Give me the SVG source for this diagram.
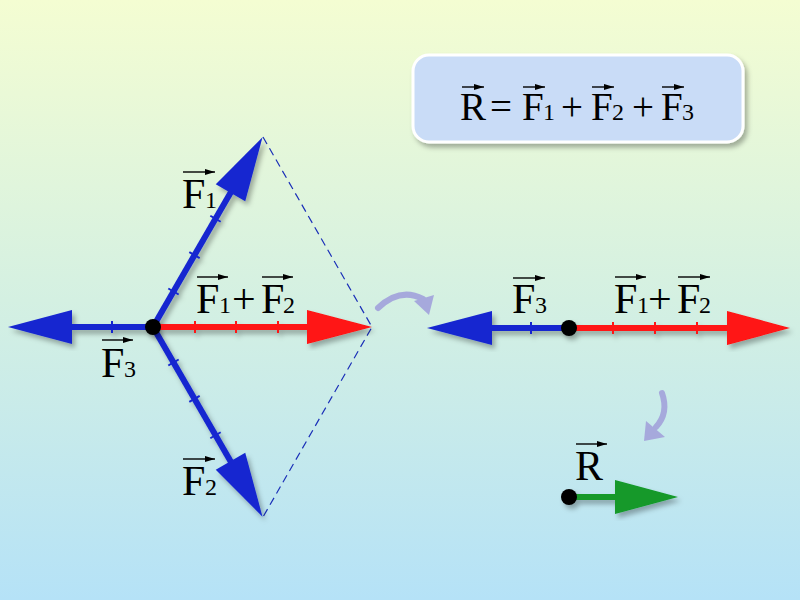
<svg xmlns="http://www.w3.org/2000/svg" width="800" height="600" viewBox="0 0 800 600">
<defs>
<linearGradient id="bg" x1="0" y1="0" x2="0" y2="1">
<stop offset="0" stop-color="#f4fdd2"/>
<stop offset="0.5" stop-color="#d4f0e2"/>
<stop offset="1" stop-color="#b5e2f7"/>
</linearGradient>
<filter id="sh" x="-20%" y="-20%" width="140%" height="140%">
<feDropShadow dx="3" dy="4" stdDeviation="2.5" flood-color="#000" flood-opacity="0.3"/>
</filter>
<marker id="va" viewBox="0 0 10 6" refX="10" refY="3" markerWidth="10" markerHeight="6" markerUnits="userSpaceOnUse" orient="auto">
<path d="M0,0 L10,3 L0,6 Z" fill="#000"/>
</marker>
</defs>
<style>
.t{font-family:"Liberation Serif","Times New Roman",serif;font-size:42px;fill:#000}
.s{font-size:24px}
.bt{font-family:"Liberation Serif","Times New Roman",serif;font-size:39px;fill:#000}
.v{stroke:#000;stroke-width:1.4;marker-end:url(#va)}
.blue{stroke:#1426d0;fill:#1426d0}
.red{stroke:#ff1212;fill:#ff1212}
.green{stroke:#12992a;fill:#12992a}
.shaft{stroke-width:6}
.tick{stroke-width:2}
.dash{stroke:#1a2fb8;stroke-width:1.2;stroke-dasharray:8 5;fill:none}
.curl{stroke:#a6a9dc;stroke-width:6;fill:none;stroke-linecap:round}
.curlh{fill:#a6a9dc}
</style>
<rect width="800" height="600" fill="url(#bg)"/>

<g id="formula">
<rect x="413" y="55" width="330" height="87" rx="16" fill="#c9dcf7" stroke="#fff" stroke-width="3" filter="url(#sh)"/>
<text class="bt" y="120"><tspan x="460">R</tspan><tspan x="490">=</tspan><tspan x="522">F</tspan><tspan x="543" class="s">1</tspan><tspan x="561">+</tspan><tspan x="591">F</tspan><tspan x="612" class="s">2</tspan><tspan x="632">+</tspan><tspan x="661">F</tspan><tspan x="682" class="s">3</tspan></text>
<line class="v" x1="462" y1="87" x2="484" y2="87"/>
<line class="v" x1="523" y1="87" x2="545" y2="87"/>
<line class="v" x1="592" y1="87" x2="614" y2="87"/>
<line class="v" x1="662" y1="87" x2="684" y2="87"/>
</g>

<g id="connectors">
<path class="dash" d="M263,137 L372,327 L263,517"/>
<path class="curl" d="M378,308 Q400,287 423,299"/>
<polygon class="curlh" points="414,301 434,295 429,315"/>
<path class="curl" d="M662,393 Q669,413 656,427"/>
<polygon class="curlh" points="646,421 665,437 644,441"/>
</g>

<g id="left-F1" filter="url(#sh)">
<g transform="translate(153,327) rotate(-60)" class="blue">
<line class="shaft" x1="0" y1="0" x2="160" y2="0"/>
<polygon points="155,-17 219,0 155,17" stroke="none"/>
<line class="tick" x1="41" y1="-6" x2="41" y2="6"/>
<line class="tick" x1="83" y1="-6" x2="83" y2="6"/>
<line class="tick" x1="125" y1="-6" x2="125" y2="6"/>
</g>
</g>
<g id="left-F2" filter="url(#sh)">
<g transform="translate(153,327) rotate(60)" class="blue">
<line class="shaft" x1="0" y1="0" x2="160" y2="0"/>
<polygon points="155,-17 219,0 155,17" stroke="none"/>
<line class="tick" x1="41" y1="-6" x2="41" y2="6"/>
<line class="tick" x1="83" y1="-6" x2="83" y2="6"/>
<line class="tick" x1="125" y1="-6" x2="125" y2="6"/>
</g>
</g>
<g id="left-F3" filter="url(#sh)">
<g transform="translate(153,327) rotate(180)" class="blue">
<line class="shaft" x1="0" y1="0" x2="85" y2="0"/>
<polygon points="81,-17 145,0 81,17" stroke="none"/>
<line class="tick" x1="41" y1="-6" x2="41" y2="6"/>
</g>
</g>
<g id="left-sum" filter="url(#sh)">
<g transform="translate(153,327)" class="red">
<line class="shaft" x1="0" y1="0" x2="158" y2="0"/>
<polygon points="154,-17 219,0 154,17" stroke="none"/>
<line class="tick" x1="42" y1="-6" x2="42" y2="6"/>
<line class="tick" x1="83" y1="-6" x2="83" y2="6"/>
<line class="tick" x1="125" y1="-6" x2="125" y2="6"/>
</g>
<circle cx="153" cy="327" r="8" fill="#000"/>
</g>

<g id="label-F1">
<text class="t" y="208"><tspan x="182">F</tspan><tspan x="205" class="s">1</tspan></text>
<line class="v" x1="183" y1="172" x2="215" y2="172"/>
</g>
<g id="label-F2">
<text class="t" y="495"><tspan x="182">F</tspan><tspan x="205" class="s">2</tspan></text>
<line class="v" x1="183" y1="459" x2="215" y2="459"/>
</g>
<g id="label-F3">
<text class="t" y="377"><tspan x="101">F</tspan><tspan x="124" class="s">3</tspan></text>
<line class="v" x1="102" y1="340" x2="133" y2="340"/>
</g>
<g id="label-sum-left">
<text class="t" y="313"><tspan x="196">F</tspan><tspan x="219" class="s">1</tspan><tspan x="232">+</tspan><tspan x="261">F</tspan><tspan x="283" class="s">2</tspan></text>
<line class="v" x1="197" y1="277" x2="228" y2="277"/>
<line class="v" x1="262" y1="277" x2="293" y2="277"/>
</g>

<g id="right-F3" filter="url(#sh)">
<g transform="translate(569,328) rotate(180)" class="blue">
<line class="shaft" x1="0" y1="0" x2="81" y2="0"/>
<polygon points="77,-17 142,0 77,17" stroke="none"/>
<line class="tick" x1="38" y1="-6" x2="38" y2="6"/>
</g>
</g>
<g id="right-sum" filter="url(#sh)">
<g transform="translate(569,328)" class="red">
<line class="shaft" x1="0" y1="0" x2="162" y2="0"/>
<polygon points="158,-17 221,0 158,17" stroke="none"/>
<line class="tick" x1="44" y1="-6" x2="44" y2="6"/>
<line class="tick" x1="86" y1="-6" x2="86" y2="6"/>
<line class="tick" x1="128" y1="-6" x2="128" y2="6"/>
</g>
<circle cx="569" cy="328" r="8" fill="#000"/>
</g>
<g id="label-F3-right">
<text class="t" y="313"><tspan x="512">F</tspan><tspan x="535" class="s">3</tspan></text>
<line class="v" x1="513" y1="278" x2="545" y2="278"/>
</g>
<g id="label-sum-right">
<text class="t" y="313"><tspan x="614">F</tspan><tspan x="637" class="s">1</tspan><tspan x="648">+</tspan><tspan x="677">F</tspan><tspan x="699" class="s">2</tspan></text>
<line class="v" x1="615" y1="277" x2="646" y2="277"/>
<line class="v" x1="678" y1="277" x2="710" y2="277"/>
</g>

<g id="resultant" filter="url(#sh)">
<g transform="translate(569,497)" class="green">
<line class="shaft" x1="0" y1="0" x2="50" y2="0"/>
<polygon points="46,-17 109,0 46,17" stroke="none"/>
</g>
<circle cx="569" cy="497" r="8" fill="#000"/>
</g>
<g id="label-R">
<text class="t" x="575" y="480">R</text>
<line class="v" x1="576" y1="444" x2="607" y2="444"/>
</g>
</svg>
